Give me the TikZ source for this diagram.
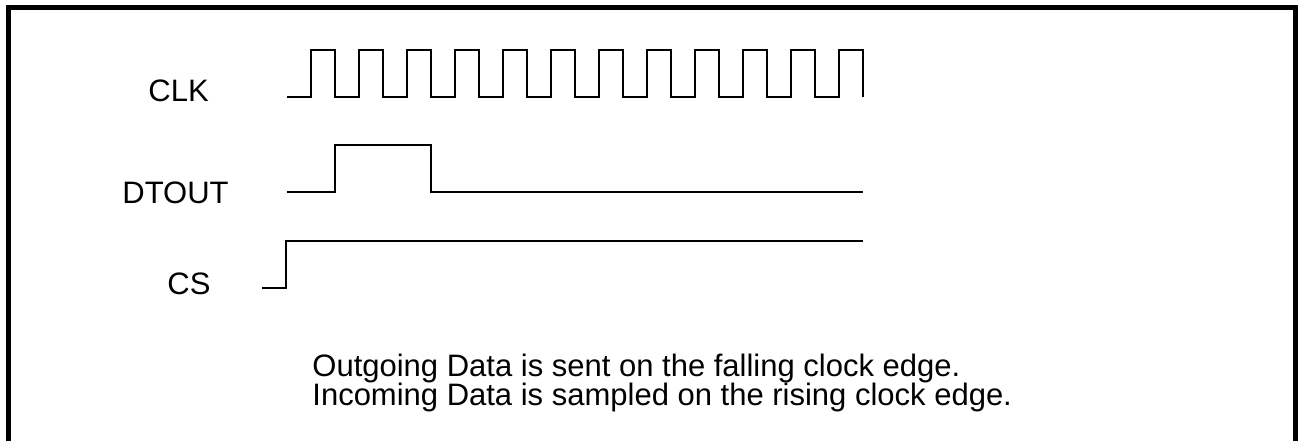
\documentclass[tikz,border=0pt]{standalone}
\usepackage{fontspec}
\setmainfont{Liberation Sans}
\usetikzlibrary{calc}

\begin{document}
\begin{tikzpicture}[x=0.5pt,y=-0.5pt,
    wave/.style={line width=1.1pt},
    lbl/.style={anchor=base west,inner sep=0pt,font=\fontsize{15.5pt}{18pt}\selectfont}]
    \useasboundingbox (0,0) rectangle (1299,440);
    \clip (0,0) rectangle (1299,440);
    \pgfmathsetmacro{\hp}{24}
    \pgfmathsetmacro{\hi}{47}

    % frame
    \draw[line width=2.5pt] (8.5,470) -- (8.5,7) -- (1295.5,7) -- (1295.5,470);

    % signal names
    \node[lbl] (clkname) at (148,101.5) {CLK};
    \node[lbl] (dtoutname) at (122,203) {DTOUT};
    \node[lbl] (csname) at (167,294) {CS};

    \coordinate (clk0) at (287,97);
    \coordinate (dt0) at (287,192);
    \coordinate (dtend) at (863,192);
    \coordinate (cs0) at (262,288);
    \coordinate (csend) at (863,241);

    % clock
    \draw[wave] (clk0) -- ++(\hp,0)
      \foreach \k in {1,...,11} { -- ++(0,-\hi) -- ++(\hp,0) -- ++(0,\hi) -- ++(\hp,0)}
      -- ++(0,-\hi) -- ++(\hp,0) -- ++(0,\hi);

    % data out
    \draw[wave] (dt0) -- ++(2*\hp,0) -- ++(0,-\hi) -- ++(4*\hp,0) -- ++(0,\hi) -- (dtend);

    % chip select
    \draw[wave] (cs0) -- ++(\hp,0) -- ++(0,-\hi) -- (csend);

    % note
    \node[lbl] (note1) at (312,376) {Outgoing Data is sent on the falling clock edge.};
    \node[lbl] (note2) at (312,405) {Incoming Data is sampled on the rising clock edge.};
\end{tikzpicture}
\end{document}
